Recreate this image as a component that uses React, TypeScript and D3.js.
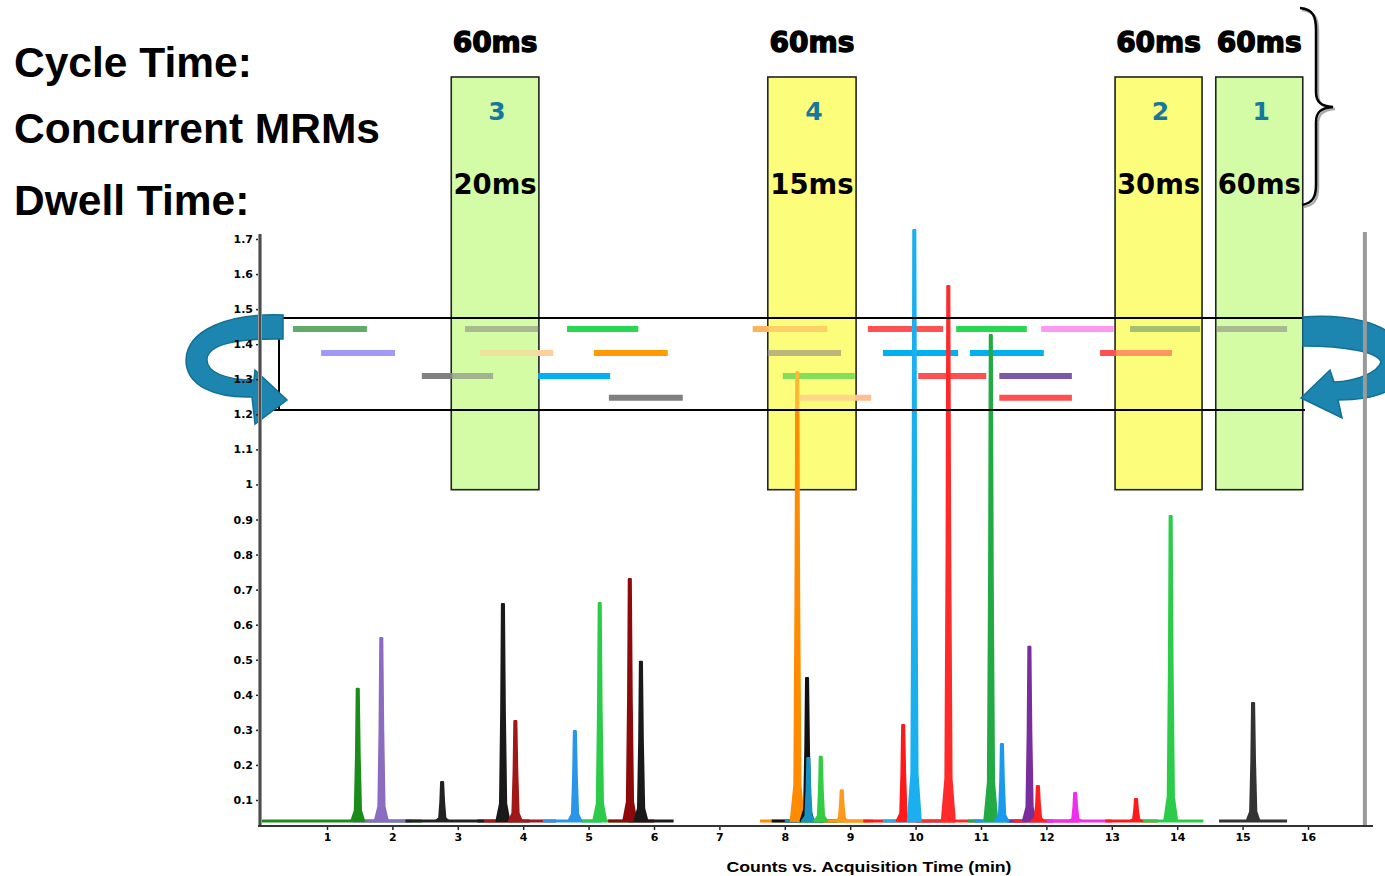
import React, { useEffect, useRef } from 'react';
import * as d3 from 'd3';

// axis ticks
const yTicks = [0.1, 0.2, 0.3, 0.4, 0.5, 0.6, 0.7, 0.8, 0.9, 1, 1.1, 1.2, 1.3, 1.4, 1.5, 1.6, 1.7];
const xTicks = [1, 2, 3, 4, 5, 6, 7, 8, 9, 10, 11, 12, 13, 14, 15, 16];

const sideLabels = ['Cycle Time:', 'Concurrent MRMs', 'Dwell Time:'];

// acquisition windows (minutes)
const windowStart = [2.9, 7.74, 13.05, 14.59];
const windowEnd = [4.24, 9.09, 14.38, 15.92];
const windowMRMs = ['3', '4', '2', '1'];
const windowDwell = ['20ms', '15ms', '30ms', '60ms'];
const windowCycle = ['60ms', '60ms', '60ms', '60ms'];
const windowBottom = 0.985;

// MRM time segments: row value, start, end (minutes)
const segRow = [1.443, 1.443, 1.443, 1.443, 1.443, 1.443, 1.443, 1.443, 1.443,
  1.375, 1.375, 1.375, 1.375, 1.375, 1.375, 1.375,
  1.309, 1.309, 1.309, 1.309, 1.309,
  1.247, 1.247, 1.247];
const segStart = [0.48, 3.11, 4.67, 7.51, 9.27, 10.62, 11.92, 13.28, 14.61,
  0.91, 3.34, 5.08, 7.74, 9.5, 10.83, 12.82,
  2.45, 4.23, 7.97, 10.04, 11.28,
  5.31, 8.23, 11.28];
const segEnd = [1.61, 4.23, 5.76, 8.65, 10.42, 11.7, 13.03, 14.35, 15.68,
  2.04, 4.46, 6.21, 8.86, 10.65, 11.96, 13.92,
  3.54, 5.33, 9.07, 11.08, 12.39,
  6.44, 9.32, 12.39];
const segColor = ['#60aa6a', '#8c8c84', '#28d850', '#ffb45a', '#ff5252', '#28d850', '#ff99f0', '#6a9a6a', '#8c8c84',
  '#a099f8', '#ffd099', '#ff9a00', '#908878', '#00b0f0', '#00b0f0', '#ff5050',
  '#808080', '#00b0f0', '#33cc44', '#ff5050', '#7a5aaa',
  '#808080', '#ffc090', '#ff5050'];

// chromatogram peaks
const peakTime = [1.47, 1.83, 2.76, 3.69, 3.88, 4.79, 5.17, 5.63, 5.8, 8.19, 8.34, 8.36, 8.55, 8.87,
  9.81, 9.98, 10.5, 11.15, 11.32, 11.74, 11.87, 12.44, 13.37, 13.9, 15.16];
const peakHeight = [0.417, 0.562, 0.151, 0.659, 0.325, 0.297, 0.662, 0.73, 0.494, 1.32, 0.448, 0.22, 0.223, 0.128,
  0.314, 1.726, 1.566, 1.426, 0.26, 0.537, 0.14, 0.12, 0.103, 0.91, 0.377];
const peakBaseStart = [0, 1.4, 2.2, 3.3, 3.4, 4.3, 4.9, 5.3, 5.6, 7.62, 7.8, 8.0, 8.2, 8.6,
  9.2, 9.5, 10.0, 10.8, 10.9, 11.4, 11.5, 12.0, 12.9, 13.43, 14.64];
const peakBaseEnd = [2.45, 2.3, 3.4, 4.1, 4.5, 5.2, 5.6, 6.0, 6.3, 9.35, 8.8, 8.6, 8.9, 9.3,
  10.6, 10.4, 11.0, 11.6, 11.7, 12.1, 12.5, 13.0, 13.7, 14.4, 15.68];
const peakColor = ['#1a8c1a', '#8a6cc0', '#222222', '#1a1a1a', '#a01818', '#2a96e8', '#2ccc4a', '#8e0a0a', '#1a1a1a',
  '#ff8c00', '#111111', '#1a90c0', '#33cc44', '#ff9a1a', '#ff1a1a', '#1ab0f0', '#ff2a2a', '#22aa44',
  '#1a9aee', '#7a2e9e', '#ff2020', '#ee30ee', '#ff1a1a', '#2ccc4a', '#333333'];
const baselineValue = 0.04;
const cursorTime = 16.87;
const frameTop = 1.475;
const frameBottom = 1.212;

const App: React.FC = () => {
  const svgRef = useRef<SVGSVGElement>(null);

  useEffect(() => {
    const svg = d3.select(svgRef.current);
    svg.selectAll('*').remove();

    const x = d3.scaleLinear().domain([0, 17]).range([261.6, 1373.4]);
    const y = d3.scaleLinear().domain([0.1, 1.7]).range([800, 239]);

    const boxFill = (i: number) => (i === 0 || i === 3 ? '#d4fca6' : '#fdfd7c');
    const boxTop = 77;

    // window boxes
    windowStart.forEach((s, i) => {
      svg.append('rect')
        .attr('x', x(s)).attr('y', boxTop)
        .attr('width', x(windowEnd[i]) - x(s))
        .attr('height', y(windowBottom) - boxTop)
        .attr('fill', boxFill(i))
        .attr('stroke', '#222').attr('stroke-width', 1.6);
    });

    // segments
    segStart.forEach((s, i) => {
      svg.append('line')
        .attr('x1', x(s)).attr('x2', x(segEnd[i]))
        .attr('y1', y(segRow[i])).attr('y2', y(segRow[i]))
        .attr('stroke', segColor[i]).attr('stroke-width', 6);
    });

    // baselines
    peakTime.forEach((_t, i) => {
      svg.append('line')
        .attr('x1', x(peakBaseStart[i])).attr('x2', x(peakBaseEnd[i]))
        .attr('y1', y(baselineValue)).attr('y2', y(baselineValue))
        .attr('stroke', peakColor[i]).attr('stroke-width', 3);
    });

    // peaks
    const line = d3.line<[number, number]>().x(d => x(d[0])).y(d => y(d[1]));
    peakTime.forEach((t, i) => {
      const h = peakHeight[i];
      const b = baselineValue;
      const r = h - b;
      const pts: [number, number][] = [
        [t - 0.1, b], [t - 0.045, b + r * 0.08], [t - 0.027, b + r * 0.5], [t - 0.016, h],
        [t + 0.016, h], [t + 0.03, b + r * 0.5], [t + 0.05, b + r * 0.08], [t + 0.1, b],
      ];
      svg.append('path')
        .attr('d', line(pts) + 'Z')
        .attr('fill', peakColor[i])
        .attr('stroke', peakColor[i])
        .attr('stroke-width', 2)
        .attr('stroke-linejoin', 'round');
    });

    // tint of the boxes over the segment area
    windowStart.forEach((s, i) => {
      svg.append('rect')
        .attr('x', x(s) + 1).attr('y', y(frameTop))
        .attr('width', x(windowEnd[i]) - x(s) - 2)
        .attr('height', y(frameBottom) - y(frameTop))
        .attr('fill', boxFill(i)).attr('opacity', 0.4);
    });

    // frame
    [frameTop, frameBottom].forEach(v => {
      svg.append('line')
        .attr('x1', 262).attr('x2', 1305)
        .attr('y1', y(v)).attr('y2', y(v))
        .attr('stroke', '#000').attr('stroke-width', 2);
    });
    svg.append('line')
      .attr('x1', 279).attr('x2', 279)
      .attr('y1', 338).attr('y2', y(frameBottom))
      .attr('stroke', '#000').attr('stroke-width', 2);

    // curved arrows
    const arrowFill = '#1c86b0';
    svg.append('path')
      .attr('d', 'M283 315 C228 313,187 330,186 360 C186 386,215 398,252 397 L255 424 L287 400 L255 370 L254 380 C225 380,206 372,207 359 C208 345,235 338,283 339 Z')
      .attr('fill', arrowFill).attr('stroke', '#136f93').attr('stroke-width', 1.5);
    svg.append('path')
      .attr('d', 'M1303 317 C1345 314,1390 322,1398 345 L1398 384 C1385 396,1365 400,1338 400 L1342 418 L1301 398 L1330 370 L1334 382 C1358 381,1378 372,1381 362 C1378 352,1345 346,1303 346 Z')
      .attr('fill', arrowFill).attr('stroke', '#136f93').attr('stroke-width', 1.5);

    // cursor line
    svg.append('line')
      .attr('x1', x(cursorTime)).attr('x2', x(cursorTime))
      .attr('y1', 232).attr('y2', 826)
      .attr('stroke', '#9a9a9a').attr('stroke-width', 4);

    // y axis
    const yAxisG = svg.append('g').attr('transform', 'translate(260,0)');
    yAxisG.call(d3.axisLeft(y).tickValues(yTicks).tickSize(4).tickPadding(3).tickFormat(d => d3.format('')(+d)))
      .call(g => g.select('.domain').remove());
    yAxisG.selectAll('text')
      .attr('font-family', 'DejaVu Sans, sans-serif')
      .attr('font-weight', 'bold')
      .attr('font-size', 11)
      .attr('fill', '#000');
    yAxisG.selectAll('.tick line').attr('stroke', '#222').attr('stroke-width', 1.5);
    svg.append('line')
      .attr('x1', 260).attr('x2', 260)
      .attr('y1', 234).attr('y2', 827)
      .attr('stroke', '#999').attr('stroke-width', 4);
    svg.append('line')
      .attr('x1', 260).attr('x2', 260)
      .attr('y1', 234).attr('y2', 827)
      .attr('stroke', '#333').attr('stroke-width', 1.5);

    // x axis
    const xAxisG = svg.append('g').attr('transform', 'translate(0,826)');
    xAxisG.call(d3.axisBottom(x).tickValues(xTicks).tickSize(4).tickPadding(3).tickFormat(d => String(d)))
      .call(g => g.select('.domain').remove());
    xAxisG.selectAll('text')
      .attr('font-family', 'DejaVu Sans, sans-serif')
      .attr('font-weight', 'bold')
      .attr('font-size', 11)
      .attr('fill', '#000');
    xAxisG.selectAll('.tick line').attr('stroke', '#222').attr('stroke-width', 1.5);
    svg.append('line')
      .attr('x1', 258).attr('x2', 1373)
      .attr('y1', 826).attr('y2', 826)
      .attr('stroke', '#333').attr('stroke-width', 2);

    svg.append('text')
      .attr('x', 869).attr('y', 872)
      .attr('text-anchor', 'middle')
      .attr('font-family', 'Liberation Sans, Arial, sans-serif')
      .attr('font-weight', 'bold')
      .attr('font-size', 15)
      .attr('textLength', 285)
      .attr('lengthAdjust', 'spacingAndGlyphs')
      .text('Counts vs. Acquisition Time (min)');

    // side labels
    const sideBase = [77, 143, 215];
    sideLabels.forEach((s, i) => {
      svg.append('text')
        .attr('x', 14).attr('y', sideBase[i])
        .attr('font-family', 'Liberation Sans, Arial, sans-serif')
        .attr('font-weight', 'bold')
        .attr('font-size', 42.5)
        .attr('fill', '#000')
        .text(s);
    });

    // window texts
    windowStart.forEach((s, i) => {
      const cx = (x(s) + x(windowEnd[i])) / 2;
      svg.append('text')
        .attr('x', cx).attr('y', 52)
        .attr('text-anchor', 'middle')
        .attr('font-family', 'DejaVu Sans, Verdana, sans-serif')
        .attr('font-weight', 'bold')
        .attr('font-size', 28)
        .attr('stroke', '#000').attr('stroke-width', 1.4)
        .text(windowCycle[i]);
      svg.append('text')
        .attr('x', cx + 2).attr('y', 120)
        .attr('text-anchor', 'middle')
        .attr('font-family', 'DejaVu Sans, Verdana, sans-serif')
        .attr('font-weight', 'bold')
        .attr('font-size', 25)
        .attr('fill', '#16789c')
        .text(windowMRMs[i]);
      svg.append('text')
        .attr('x', cx).attr('y', 194)
        .attr('text-anchor', 'middle')
        .attr('font-family', 'DejaVu Sans, Verdana, sans-serif')
        .attr('font-weight', 'bold')
        .attr('font-size', 27.5)
        .attr('fill', '#000')
        .text(windowDwell[i]);
    });

    // brace
    const brace = 'M1300 8 C1314 9,1316 18,1316 30 L1316 92 C1316 102,1321 106,1333 107 C1321 108,1316 112,1316 122 L1316 185 C1316 198,1312 203,1302 205';
    svg.append('path').attr('d', brace).attr('transform', 'translate(2,2)')
      .attr('fill', 'none').attr('stroke', '#aaa').attr('stroke-width', 2.5);
    svg.append('path').attr('d', brace)
      .attr('fill', 'none').attr('stroke', '#000').attr('stroke-width', 2.5);
  }, []);

  return (
    <svg ref={svgRef} width={1385} height={876}
      style={{ position: 'absolute', left: 0, top: 0, background: '#fff', display: 'block' }} />
  );
};

export default App;
